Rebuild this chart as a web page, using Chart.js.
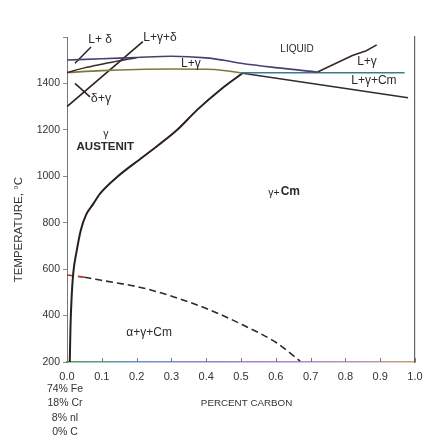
<!DOCTYPE html>
<html><head><meta charset="utf-8">
<script src="https://cdn.jsdelivr.net/npm/chart.js@4.4.0/dist/chart.umd.min.js"></script>
<style>html,body{margin:0;padding:0;background:#fff;}canvas{display:block;}</style>
</head><body>
<canvas id="c" width="441" height="443"></canvas>
<script>
// ---- tick labels ----
const xTicks = [0, 0.1, 0.2, 0.3, 0.4, 0.5, 0.6, 0.7, 0.8, 0.9, 1.0];
const yTicks = [200, 400, 600, 800, 1000, 1200, 1400, 1600];
const composition = ["74% Fe", "18% Cr", "8% nl", "0% C"];

// ---- phase boundaries (percent carbon, temperature °C) ----
const liquidusC = [0, 0.1, 0.2, 0.3, 0.4, 0.45, 0.5, 0.6, 0.72];
const liquidusT = [1501, 1506, 1512, 1517, 1510, 1500, 1487, 1468, 1449];

const liqRiseC = [0.72, 0.77, 0.82, 0.86, 0.89];
const liqRiseT = [1449, 1485, 1520, 1541, 1566];

const deltaC = [0, 0.05, 0.1, 0.15, 0.2];
const deltaT = [1447, 1467, 1483, 1498, 1511];

const solidusC = [0, 0.1, 0.2, 0.3, 0.4, 0.45, 0.5];
const solidusT = [1447, 1455, 1460, 1462, 1461, 1456, 1445];

const eutecticC = [0.5, 0.97];
const eutecticT = [1446, 1446];

const cmLowerC = [0.5, 0.98];
const cmLowerT = [1445, 1338];

const deltaGammaC = [0, 0.218];
const deltaGammaT = [1300, 1580];

const ptrLdC = [0.023, 0.069];
const ptrLdT = [1487, 1557];

const ptrDgC = [0.023, 0.066];
const ptrDgT = [1400, 1342];

const solvusC = [0.008, 0.010, 0.013, 0.018, 0.028, 0.040, 0.055, 0.075, 0.095, 0.144, 0.218, 0.316, 0.374, 0.44, 0.505];
const solvusT = [200, 350, 470, 583, 680, 770, 835, 880, 925, 997, 1083, 1199, 1286, 1372, 1445];

const alphaC = [0, 0.05, 0.095, 0.218, 0.316, 0.411, 0.506, 0.603, 0.67];
const alphaT = [575, 565, 553, 519, 476, 424, 359, 282, 204];

// ---- region labels ----
const regionLabels = [
  {text: "L+ δ", c: 0.095, t: 1587, size: 12},
  {text: "L+γ+δ", c: 0.267, t: 1596, size: 12},
  {text: "LIQUID", c: 0.661, t: 1548, size: 10},
  {text: "L+γ", c: 0.356, t: 1486, size: 12},
  {text: "L+γ", c: 0.862, t: 1492, size: 12},
  {text: "L+γ+Cm", c: 0.882, t: 1411, size: 12},
  {text: "δ+γ", c: 0.098, t: 1333, size: 12.5},
  {text: "γ", c: 0.112, t: 1182, size: 10.5},
  {text: "AUSTENIT", c: 0.11, t: 1127, bold: true, size: 11.5},
  {text: "α+γ+Cm", c: 0.236, t: 325, size: 12}
];

const zip = (cs, ts) => cs.map((c, i) => ({x: c, y: ts[i]}));
const FONT = "'Liberation Sans', Arial, sans-serif";

const canvas = document.getElementById('c');
const ctx0 = canvas.getContext('2d');
const axisGrad = ctx0.createLinearGradient(67, 0, 415, 0);
axisGrad.addColorStop(0, '#4f9a55');
axisGrad.addColorStop(0.12, '#5d9a9a');
axisGrad.addColorStop(0.2, '#6a8fd2');
axisGrad.addColorStop(0.4, '#9480cc');
axisGrad.addColorStop(0.7, '#b888c8');
axisGrad.addColorStop(0.88, '#c098b0');
axisGrad.addColorStop(1, '#c8a06a');

function ds(cs, ts, color, width, extra) {
  return Object.assign({
    data: zip(cs, ts), showLine: true, pointRadius: 0, borderColor: color,
    borderWidth: width, fill: false, tension: 0
  }, extra || {});
}

const datasets = [
  ds(liquidusC, liquidusT, '#4a3f72', 1.6, {cubicInterpolationMode: 'monotone'}),
  ds(liqRiseC, liqRiseT, '#3a2828', 1.6),
  ds(deltaC, deltaT, '#3a2a2a', 1.5, {cubicInterpolationMode: 'monotone'}),
  ds(solidusC, solidusT, '#7f7838', 1.6, {cubicInterpolationMode: 'monotone'}),
  ds(eutecticC, eutecticT, '#3d7a92', 1.6),
  ds(cmLowerC, cmLowerT, '#332a2e', 1.6),
  ds(deltaGammaC, deltaGammaT, '#2e2222', 1.6),
  ds(ptrLdC, ptrLdT, '#2e2222', 1.5),
  ds(ptrDgC, ptrDgT, '#2e2222', 1.5),
  ds(solvusC, solvusT, '#2a1e1e', 2, {cubicInterpolationMode: 'monotone'}),
  ds(alphaC, alphaT, '#2e2a2a', 1.6, {cubicInterpolationMode: 'monotone', borderDash: [7, 4],
     segment: {borderColor: c => c.p0DataIndex === 0 ? '#a8321e' : '#2e2a2a'}})
];

const textPlugin = {
  id: 'texts',
  afterDraw(chart) {
    const ctx = chart.ctx, x = chart.scales.x, y = chart.scales.y;
    ctx.save();
    ctx.fillStyle = '#2a2a2a';
    ctx.textAlign = 'center';
    ctx.textBaseline = 'middle';
    // inward x ticks
    ctx.strokeStyle = '#777';
    ctx.lineWidth = 1;
    xTicks.forEach(v => {
      const px = Math.round(x.getPixelForValue(v)) + 0.5;
      ctx.beginPath(); ctx.moveTo(px, y.bottom); ctx.lineTo(px, y.bottom - 4); ctx.stroke();
    });
    regionLabels.forEach(l => {
      ctx.font = (l.bold ? 'bold ' : '') + (l.size || 10) + 'px ' + FONT;
      ctx.fillText(l.text, x.getPixelForValue(l.c), y.getPixelForValue(l.t));
    });
    // gamma + Cm with bold Cm
    {
      const px = x.getPixelForValue(0.624), py = y.getPixelForValue(932);
      ctx.font = '10.5px ' + FONT;
      const a = 'γ+';
      const wa = ctx.measureText(a).width + 1;
      ctx.font = 'bold 12px ' + FONT;
      const wb = ctx.measureText('Cm').width;
      const start = px - (wa + wb) / 2;
      ctx.textAlign = 'left';
      ctx.font = '10.5px ' + FONT;
      ctx.fillText(a, start, py + 1);
      ctx.font = 'bold 12px ' + FONT;
      ctx.fillText('Cm', start + wa, py);
      ctx.textAlign = 'center';
    }
    // composition under 0.0
    ctx.font = '10.5px ' + FONT;
    ctx.fillStyle = '#333';
    const cx = x.getPixelForValue(0) - 2;
    composition.forEach((s, i) => ctx.fillText(s, cx, 389 + i * 14.5));
    // x title
    ctx.font = '9.8px ' + FONT;
    ctx.fillText('PERCENT CARBON', x.getPixelForValue(0.516), 403);
    // y title
    ctx.save();
    ctx.translate(19, y.getPixelForValue(770));
    ctx.rotate(-Math.PI / 2);
    ctx.font = '11.5px ' + FONT;
    ctx.fillText('TEMPERATURE, °C', 0, 0);
    ctx.restore();
    ctx.restore();
  }
};

new Chart(canvas, {
  type: 'scatter',
  data: {datasets},
  options: {
    responsive: false,
    animation: false,
    events: [],
    layout: {padding: {left: 0, top: 37, right: 26, bottom: 0}},
    plugins: {legend: {display: false}, tooltip: {enabled: false}},
    scales: {
      x: {
        type: 'linear', min: 0, max: 1,
        afterBuildTicks: s => { s.ticks = xTicks.map(v => ({value: v})); },
        ticks: {callback: v => Number(v).toFixed(1), font: {family: FONT, size: 11}, color: '#333',
                padding: 8, maxRotation: 0, autoSkip: false},
        grid: {display: false, drawTicks: false, tickLength: 0},
        border: {display: true, color: axisGrad, width: 1.5},
        afterFit: s => { s.height = 81; }
      },
      y: {
        type: 'linear', min: 200, max: 1600,
        afterBuildTicks: s => { s.ticks = yTicks.map(v => ({value: v})); },
        ticks: {callback: v => (v === 1600 ? '' : String(v)), font: {family: FONT, size: 10.5}, color: '#333', padding: 3},
        grid: {drawOnChartArea: false, tickLength: 4, color: '#888'},
        border: {display: true, color: '#777', width: 1},
        afterFit: s => { s.width = 67; }
      },
      yR: {
        type: 'linear', position: 'right', min: 200, max: 1600,
        ticks: {display: false},
        grid: {display: false, drawTicks: false},
        border: {display: true, color: '#666', width: 1.2},
        afterFit: s => { s.width = 0; }
      }
    }
  },
  plugins: [textPlugin]
});
</script>
</body></html>
